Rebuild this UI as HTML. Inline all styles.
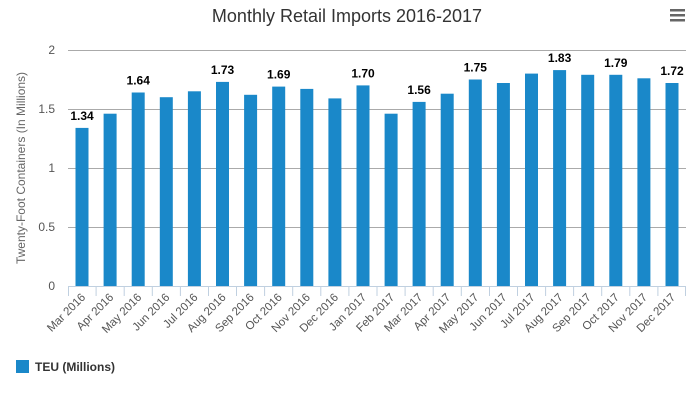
<!DOCTYPE html>
<html><head><meta charset="utf-8"><style>
body{margin:0;background:#fff;}
svg{display:block;font-family:"Liberation Sans","DejaVu Sans",sans-serif;}
</style></head><body>
<svg width="694" height="417" viewBox="0 0 694 417" xmlns="http://www.w3.org/2000/svg">
<rect width="694" height="417" fill="#fff"/>
<text x="347" y="22" text-anchor="middle" font-size="18" fill="#333">Monthly Retail Imports 2016-2017</text>
<g fill="#666"><rect x="670" y="9" width="15" height="2.5"/><rect x="670" y="14" width="15" height="2.5"/><rect x="670" y="19" width="15" height="2.5"/></g>
<g stroke="#aaa" stroke-width="1">
<line x1="68" x2="686" y1="50.5" y2="50.5"/>
<line x1="68" x2="686" y1="109.5" y2="109.5"/>
<line x1="68" x2="686" y1="168.5" y2="168.5"/>
<line x1="68" x2="686" y1="227.5" y2="227.5"/>
</g>
<g font-size="12" fill="#555" text-anchor="end">
<text x="55" y="54">2</text><text x="55" y="113">1.5</text><text x="55" y="172">1</text><text x="55" y="231">0.5</text><text x="55" y="290">0</text>
</g>
<text transform="translate(25,168) rotate(-90)" text-anchor="middle" font-size="12" fill="#666">Twenty-Foot Containers (In Millions)</text>
<g fill="#1a88c9">
<rect x="75.5" y="127.9" width="13" height="158.1"/>
<rect x="103.6" y="113.7" width="13" height="172.3"/>
<rect x="131.7" y="92.5" width="13" height="193.5"/>
<rect x="159.8" y="97.2" width="13" height="188.8"/>
<rect x="187.9" y="91.3" width="13" height="194.7"/>
<rect x="216.0" y="81.9" width="13" height="204.1"/>
<rect x="244.1" y="94.8" width="13" height="191.2"/>
<rect x="272.2" y="86.6" width="13" height="199.4"/>
<rect x="300.3" y="88.9" width="13" height="197.1"/>
<rect x="328.4" y="98.4" width="13" height="187.6"/>
<rect x="356.5" y="85.4" width="13" height="200.6"/>
<rect x="384.6" y="113.7" width="13" height="172.3"/>
<rect x="412.6" y="101.9" width="13" height="184.1"/>
<rect x="440.7" y="93.7" width="13" height="192.3"/>
<rect x="468.8" y="79.5" width="13" height="206.5"/>
<rect x="496.9" y="83.0" width="13" height="203.0"/>
<rect x="525.0" y="73.6" width="13" height="212.4"/>
<rect x="553.1" y="70.1" width="13" height="215.9"/>
<rect x="581.2" y="74.8" width="13" height="211.2"/>
<rect x="609.3" y="74.8" width="13" height="211.2"/>
<rect x="637.4" y="78.3" width="13" height="207.7"/>
<rect x="665.5" y="83.0" width="13" height="203.0"/>
</g>
<g font-size="12" font-weight="bold" fill="#000" text-anchor="middle">
<text x="82" y="120">1.34</text>
<text x="138.2" y="84.5">1.64</text>
<text x="222.5" y="74">1.73</text>
<text x="278.7" y="78.6">1.69</text>
<text x="363" y="77.4">1.70</text>
<text x="419.1" y="94">1.56</text>
<text x="475.3" y="71.5">1.75</text>
<text x="559.6" y="62.1">1.83</text>
<text x="615.8" y="66.8">1.79</text>
<text x="672" y="75">1.72</text>
</g>
<line x1="68" x2="686" y1="286.5" y2="286.5" stroke="#c0d0e0"/>
<path stroke="#c0d0e0" fill="none" d="M68.5 286V296M96.1 286V296M124.2 286V296M152.3 286V296M180.4 286V296M208.5 286V296M236.5 286V296M264.6 286V296M292.7 286V296M320.8 286V296M348.9 286V296M377 286V296M405.1 286V296M433.2 286V296M461.3 286V296M489.5 286V296M517.5 286V296M545.6 286V296M573.6 286V296M601.7 286V296M629.8 286V296M657.9 286V296M685.5 286V296"/>
<g font-size="11.5" fill="#555" text-anchor="end">
<text transform="translate(86,298) rotate(-45)">Mar 2016</text>
<text transform="translate(114.1,298) rotate(-45)">Apr 2016</text>
<text transform="translate(142.2,298) rotate(-45)">May 2016</text>
<text transform="translate(170.3,298) rotate(-45)">Jun 2016</text>
<text transform="translate(198.4,298) rotate(-45)">Jul 2016</text>
<text transform="translate(226.5,298) rotate(-45)">Aug 2016</text>
<text transform="translate(254.6,298) rotate(-45)">Sep 2016</text>
<text transform="translate(282.7,298) rotate(-45)">Oct 2016</text>
<text transform="translate(310.8,298) rotate(-45)">Nov 2016</text>
<text transform="translate(338.9,298) rotate(-45)">Dec 2016</text>
<text transform="translate(367,298) rotate(-45)">Jan 2017</text>
<text transform="translate(395.1,298) rotate(-45)">Feb 2017</text>
<text transform="translate(423.1,298) rotate(-45)">Mar 2017</text>
<text transform="translate(451.2,298) rotate(-45)">Apr 2017</text>
<text transform="translate(479.3,298) rotate(-45)">May 2017</text>
<text transform="translate(507.4,298) rotate(-45)">Jun 2017</text>
<text transform="translate(535.5,298) rotate(-45)">Jul 2017</text>
<text transform="translate(563.6,298) rotate(-45)">Aug 2017</text>
<text transform="translate(591.7,298) rotate(-45)">Sep 2017</text>
<text transform="translate(619.8,298) rotate(-45)">Oct 2017</text>
<text transform="translate(647.9,298) rotate(-45)">Nov 2017</text>
<text transform="translate(676,298) rotate(-45)">Dec 2017</text>
</g>
<rect x="16" y="360" width="13" height="13" fill="#1a88c9"/>
<text x="35" y="371" font-size="12" font-weight="bold" fill="#333">TEU (Millions)</text>
</svg>
</body></html>
